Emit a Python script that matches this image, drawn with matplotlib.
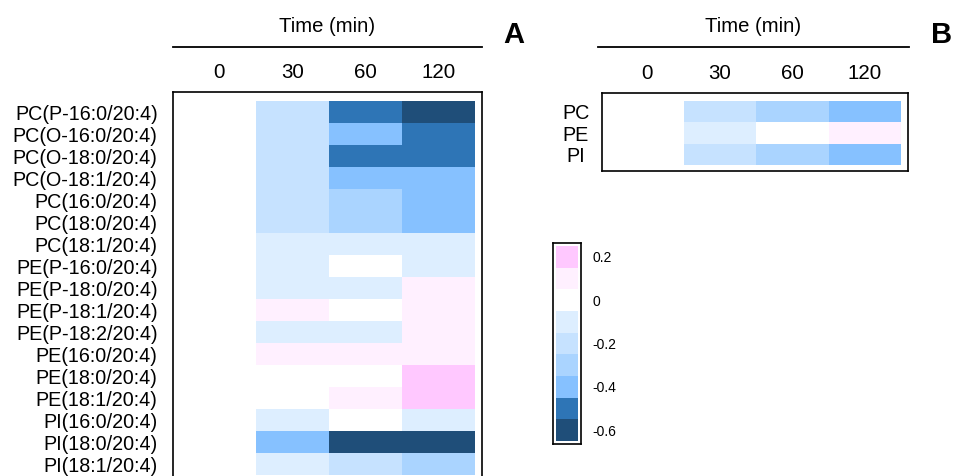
import numpy as np
import matplotlib
matplotlib.use("Agg")
import matplotlib.pyplot as plt
from matplotlib.colors import ListedColormap, BoundaryNorm
from matplotlib.lines import Line2D

plt.rcParams['font.family'] = ['Liberation Sans', 'DejaVu Sans']

times = ['0', '30', '60', '120']

lipids_a = ['PC(P-16:0/20:4)', 'PC(O-16:0/20:4)', 'PC(O-18:0/20:4)', 'PC(O-18:1/20:4)',
            'PC(16:0/20:4)', 'PC(18:0/20:4)', 'PC(18:1/20:4)', 'PE(P-16:0/20:4)',
            'PE(P-18:0/20:4)', 'PE(P-18:1/20:4)', 'PE(P-18:2/20:4)', 'PE(16:0/20:4)',
            'PE(18:0/20:4)', 'PE(18:1/20:4)', 'PI(16:0/20:4)', 'PI(18:0/20:4)',
            'PI(18:1/20:4)']
# change vs time 0, one row per lipid
values_a = [
    [0, -0.2, -0.5, -0.6],
    [0, -0.2, -0.4, -0.5],
    [0, -0.2, -0.5, -0.5],
    [0, -0.2, -0.4, -0.4],
    [0, -0.2, -0.3, -0.4],
    [0, -0.2, -0.3, -0.4],
    [0, -0.1, -0.1, -0.1],
    [0, -0.1, 0.0, -0.1],
    [0, -0.1, -0.1, 0.1],
    [0, 0.1, 0.0, 0.1],
    [0, -0.1, -0.1, 0.1],
    [0, 0.1, 0.1, 0.1],
    [0, 0.0, 0.0, 0.2],
    [0, 0.0, 0.1, 0.2],
    [0, -0.1, 0.0, -0.1],
    [0, -0.4, -0.6, -0.6],
    [0, -0.1, -0.2, -0.3],
]

classes_b = ['PC', 'PE', 'PI']
values_b = [
    [0, -0.2, -0.3, -0.4],
    [0, -0.1, 0.0, 0.1],
    [0, -0.2, -0.3, -0.4],
]

levels = [-0.6, -0.5, -0.4, -0.3, -0.2, -0.1, 0.0, 0.1, 0.2]
level_colors = ['#1F4E79', '#2E75B6', '#86C1FF', '#AAD4FF', '#C6E2FF',
                '#DDEEFF', '#FFFFFF', '#FFF0FF', '#FFC8FF']
cbar_ticks = [-0.6, -0.4, -0.2, 0, 0.2]

cmap = ListedColormap(level_colors)
norm = BoundaryNorm(np.append(np.array(levels) - 0.05, levels[-1] + 0.05), cmap.N)

W, H = 960, 476
fig = plt.figure(figsize=(W / 100, H / 100), dpi=100)


def px_axes(x0, y0, x1, y1):
    # pixel box (top-left origin) -> axes
    return fig.add_axes([x0 / W, 1 - y1 / H, (x1 - x0) / W, (y1 - y0) / H])


def heat(ax, data, rows, cw, rh, pads, label_pad):
    data = np.array(data)
    ax.pcolormesh(data, cmap=cmap, norm=norm)
    l, r, t, b = pads
    ax.set_xlim(-l / cw, data.shape[1] + r / cw)
    ax.set_ylim(data.shape[0] + b / rh, -t / rh)
    ax.set_yticks(np.arange(len(rows)) + 0.5)
    ax.set_yticklabels(rows, fontsize=14.2)
    ax.set_xticks(np.arange(len(times)) + 0.5)
    ax.set_xticklabels(times, fontsize=14.8)
    ax.xaxis.tick_top()
    ax.tick_params(length=0)
    ax.tick_params(axis='y', pad=label_pad)
    ax.tick_params(axis='x', pad=7)
    for s in ax.spines.values():
        s.set_linewidth(1.2)


def header(x0, x1, letter, lx):
    fig.text((x0 + x1) / 2 / W, 1 - 27 / H, 'Time (min)', fontsize=14.6,
             ha='center', va='center')
    fig.add_artist(Line2D([x0 / W, x1 / W], [1 - 47 / H, 1 - 47 / H],
                          color='black', lw=1.3))
    fig.text(lx / W, 1 - 35 / H, letter, fontsize=21, fontweight='bold',
             ha='center', va='center')


# panel A
ax_a = px_axes(173, 92, 482, 480)
heat(ax_a, values_a, lipids_a, 73, 22, (10, 7, 9, 5), 11)
header(173, 482, 'A', 514)

# panel B
ax_b = px_axes(602, 93, 908, 171)
heat(ax_b, values_b, classes_b, 72.5, 21.3, (9, 7, 8, 6), 19)
for lab in ax_b.get_yticklabels():
    lab.set_horizontalalignment('center')
header(598, 909, 'B', 942)

# colour key
ax_c = px_axes(553, 243, 581, 444)
ax_c.pcolormesh(np.array(levels[::-1]).reshape(-1, 1), cmap=cmap, norm=norm)
ax_c.set_xlim(-3 / 22, 1 + 3 / 22)
ax_c.set_ylim(len(levels) + 3 / 21.7, -3 / 21.7)
ax_c.set_xticks([])
ax_c.yaxis.tick_right()
ax_c.set_yticks([levels[::-1].index(v) + 0.5 for v in cbar_ticks])
ax_c.set_yticklabels(['%g' % v for v in cbar_ticks], fontsize=10)
ax_c.tick_params(length=0, pad=8)
for s in ax_c.spines.values():
    s.set_linewidth(1.2)

fig.savefig('out.png', dpi=100)
